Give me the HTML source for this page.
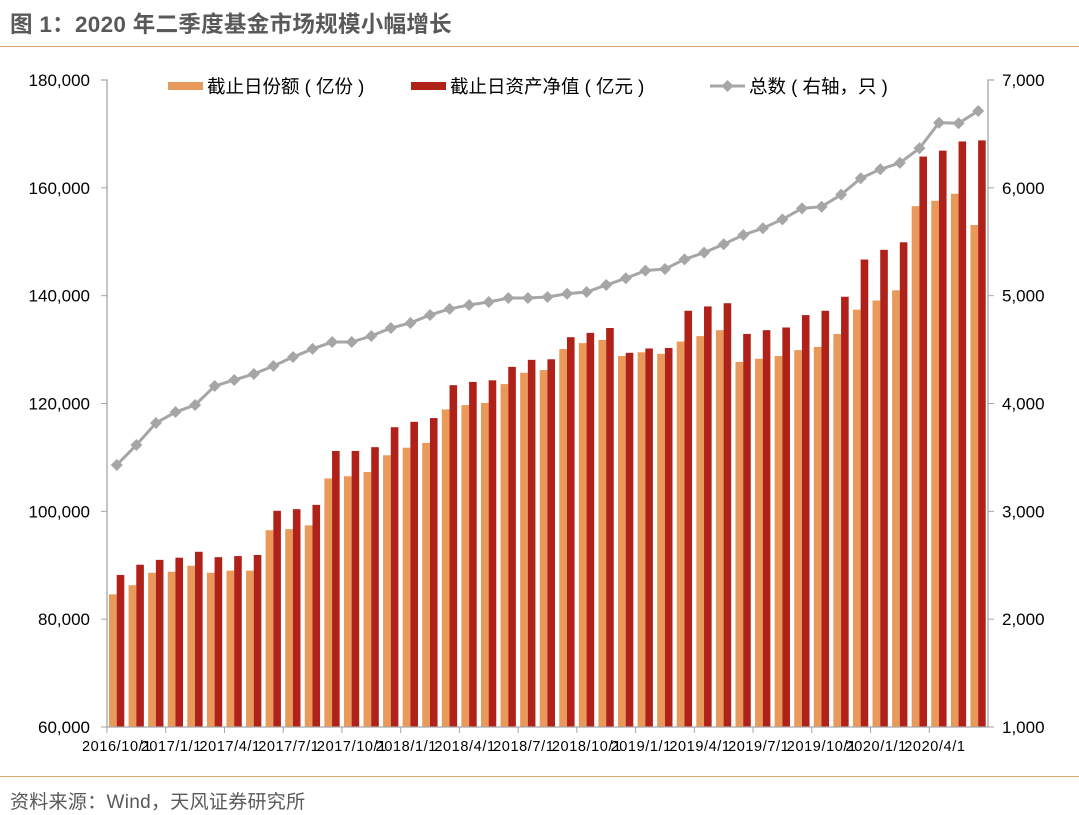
<!DOCTYPE html>
<html><head><meta charset="utf-8">
<style>
body{margin:0;background:#fff;width:1079px;height:815px;overflow:hidden;font-family:"Liberation Sans","Noto Sans CJK SC",sans-serif;}
#title{position:absolute;left:10px;top:7px;font-size:22.5px;font-weight:bold;color:#595959;letter-spacing:0.3px;}
#src{position:absolute;left:10px;top:787px;font-size:19px;color:#595959;letter-spacing:0.3px;}
.rule{position:absolute;left:0;width:1079px;height:1px;background:#d9a66b;}
svg{position:absolute;left:0;top:0}
</style></head><body>
<div id="title">图 1：2020 年二季度基金市场规模小幅增长</div>
<div class="rule" style="top:46px"></div>
<div class="rule" style="top:776px"></div>
<div id="src">资料来源：Wind，天风证券研究所</div>
<svg id="chart" width="1079" height="815"></svg>
<script>
const xLabels=["2016/10/1","2017/1/1","2017/4/1","2017/7/1","2017/10/1","2018/1/1","2018/4/1","2018/7/1","2018/10/1","2019/1/1","2019/4/1","2019/7/1","2019/10/1","2020/1/1","2020/4/1"];
const shares=[84600,86300,88600,88800,89900,88600,89000,89000,96500,96700,97400,106100,106500,107300,110400,111800,112700,118900,119700,120100,123600,125700,126200,130100,131200,131800,128800,129500,129200,131500,132500,133600,127700,128300,128800,129900,130500,132900,137400,139100,141000,156600,157600,158900,153100];
const nav=[88200,90100,91000,91400,92500,91500,91700,91900,100100,100400,101200,111200,111200,111900,115600,116600,117300,123400,124000,124300,126800,128100,128200,132300,133100,134000,129400,130200,130300,137200,138000,138600,132900,133600,134100,136400,137200,139800,146700,148500,149900,165800,166900,168600,168800];
const counts=[3430,3615,3819,3921,3986,4162,4218,4274,4348,4431,4506,4570,4570,4626,4700,4747,4821,4877,4914,4941,4978,4978,4988,5018,5034,5099,5161,5232,5247,5337,5399,5477,5563,5625,5708,5810,5825,5937,6089,6172,6231,6367,6604,6599,6713];
const leftTicks=[60000,80000,100000,120000,140000,160000,180000];
const rightTicks=[1000,2000,3000,4000,5000,6000,7000];

const X0=107,X1=988,Y0=727,Y1=80,N=shares.length,bw=(X1-X0)/N;
const yL=v=>Y0-(v-60000)/120000*(Y0-Y1);
const yR=v=>Y0-(v-1000)/6000*(Y0-Y1);
const xC=i=>X0+i*bw;
const svg=document.getElementById('chart');
const NS='http://www.w3.org/2000/svg';
function mk(t,a,p){const e=document.createElementNS(NS,t);for(const k in a)e.setAttribute(k,a[k]);(p||svg).appendChild(e);return e;}
const F='"Liberation Sans","Noto Sans CJK SC",sans-serif';
for(let i=0;i<N;i++){
 let r=mk('rect',{x:xC(i)+2,y:yL(shares[i]),width:7.7,height:Y0-yL(shares[i]),fill:'#E9995A'});
 
 
 let r2=mk('rect',{x:xC(i)+9.7,y:yL(nav[i]),width:7.6,height:Y0-yL(nav[i]),fill:'#B0211A'});
 
 
}
let ax=mk('path',{d:`M${X0-6},${Y1}H${X0}V${Y0}H${X1}V${Y1}H${X1+6}`,stroke:'#a6a6a6',fill:'none','stroke-width':1.3});


leftTicks.forEach(v=>{
 mk('line',{x1:X0-6,x2:X0,y1:yL(v),y2:yL(v),stroke:'#a6a6a6'});
 let t=mk('text',{x:90,y:yL(v)+6,'text-anchor':'end','font-size':17,'font-family':F,fill:'#000'});
 t.textContent=v.toLocaleString('en-US');
 
 
});
rightTicks.forEach(v=>{
 mk('line',{x1:X1,x2:X1+6,y1:yR(v),y2:yR(v),stroke:'#a6a6a6'});
 let t=mk('text',{x:1002,y:yR(v)+6,'font-size':17,'font-family':F,fill:'#000'});
 t.textContent=v.toLocaleString('en-US');
 
 
});
xLabels.forEach((s,k)=>{
 const x=xC(k*3);
 mk('line',{x1:x,x2:x,y1:Y0,y2:Y0+6,stroke:'#a6a6a6'});
 let t=mk('text',{x:x-25,y:751,'font-size':14.5,'letter-spacing':'0.6','font-family':F,fill:'#000'});
 t.textContent=s;
 
 
});
let d=counts.map((v,i)=>(i?'L':'M')+(xC(i)+bw/2)+','+yR(v)).join('');
let ln=mk('path',{d,stroke:'#a6a6a6',fill:'none','stroke-width':3});


counts.forEach((v,i)=>{
 const cx=xC(i)+bw/2,cy=yR(v);
 let m=mk('path',{d:`M${cx},${cy-6}L${cx+6},${cy}L${cx},${cy+6}L${cx-6},${cy}Z`,fill:'#a6a6a6'});
 
 
});
const leg=[['截止日份额 ( 亿份 )','#E9995A',168,'bar'],['截止日资产净值 ( 亿元 )','#B0211A',411,'bar'],['总数 ( 右轴，只 )','#a6a6a6',710,'line']];
leg.forEach(([s,c,x,k])=>{
 let g=mk('g',{});
 
 
 if(k==='bar')mk('rect',{x:x,y:82,width:35,height:8,fill:c},g);
 else{mk('line',{x1:x,x2:x+35,y1:86,y2:86,stroke:c,'stroke-width':3},g);mk('path',{d:`M${x+17.5},80L${x+23.5},86L${x+17.5},92L${x+11.5},86Z`,fill:c},g);}
 let t=mk('text',{x:x+39,y:93,'font-size':18.5,'font-family':F,fill:'#000'},g);
 t.textContent=s;
});
</script>
</body></html>
